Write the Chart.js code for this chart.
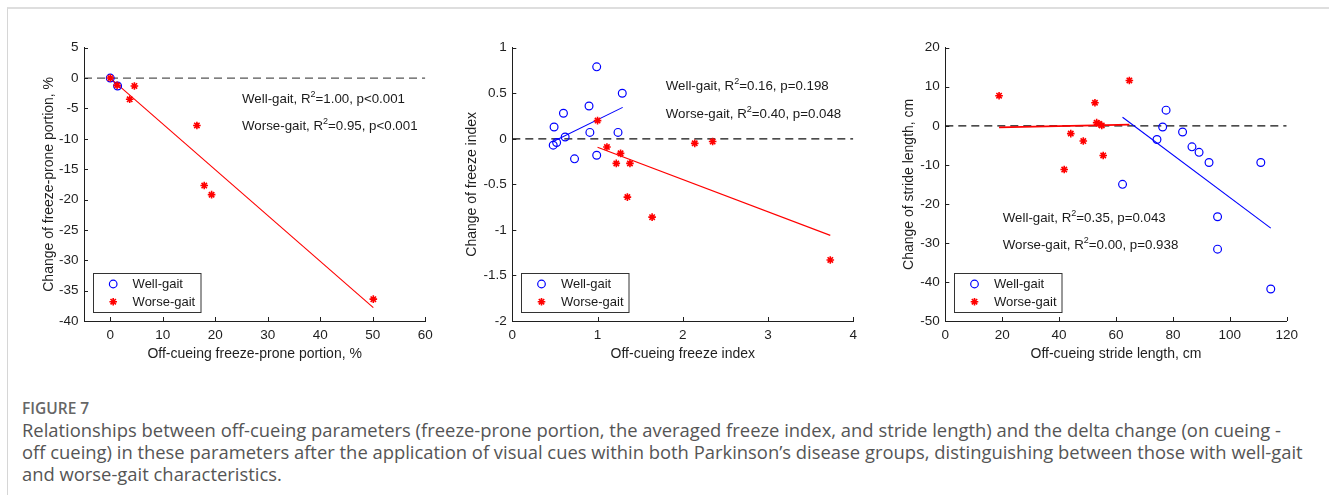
<!DOCTYPE html>
<html><head><meta charset="utf-8">
<script src="https://cdn.jsdelivr.net/npm/chart.js@4.4.0/dist/chart.umd.min.js"></script>
<style>
html,body{margin:0;padding:0;background:#fff;}
body{width:1329px;height:495px;position:relative;overflow:hidden;font-family:"Liberation Sans",Arial,sans-serif;}
#frame{position:absolute;left:7px;top:7px;right:0;bottom:0;border-top:2px solid #dedede;border-left:1px solid #d6d6d6;}
canvas{position:absolute;top:0;}
.cap{position:absolute;left:22px;font-family:"Open Sans","Noto Sans",sans-serif;color:#555;white-space:nowrap;line-height:22px;}
.fig{font-size:15.5px;font-weight:600;color:#666;}
.txt{font-size:18.4px;}
</style></head><body>
<div id="frame"></div>
<canvas id="c1" width="440" height="380" style="left:0px"></canvas>
<canvas id="c2" width="442" height="380" style="left:428px"></canvas>
<canvas id="c3" width="468" height="380" style="left:861px"></canvas>
<div class="cap fig" style="top:397px">FIGURE 7</div>
<div class="cap txt" style="top:419px">Relationships between off-cueing parameters (freeze-prone portion, the averaged freeze index, and stride length) and the delta change (on cueing -</div>
<div class="cap txt" style="top:441px">off cueing) in these parameters after the application of visual cues within both Parkinson’s disease groups, distinguishing between those with well-gait</div>
<div class="cap txt" style="top:463px">and worse-gait characteristics.</div>
<script>
// ---- Panel 1: freeze-prone portion ----
const fpWellX = [0, 1.4];
const fpWellY = [0, -1.3];
const fpWorseX = [0, 1.3, 4.6, 3.7, 16.5, 17.9, 19.3, 50.1];
const fpWorseY = [0, -1.2, -1.3, -3.5, -7.8, -17.7, -19.2, -36.4];
const fpWellFitX = [0, 1.4];
const fpWellFitY = [0, -1.3];
const fpWorseFitX = [0, 50.1];
const fpWorseFitY = [0, -37.8];
const fpXTicks = [0, 10, 20, 30, 40, 50, 60];
const fpYTicks = [5, 0, -5, -10, -15, -20, -25, -30, -35, -40];
const fpStats = ['Well-gait, R', '=1.00, p<0.001', 'Worse-gait, R', '=0.95, p<0.001'];

// ---- Panel 2: freeze index ----
const fiWellX = [0.48, 0.52, 0.62, 0.49, 0.60, 0.90, 0.91, 0.99, 0.99, 0.73, 1.24, 1.29];
const fiWellY = [-0.07, -0.04, 0.02, 0.13, 0.28, 0.36, 0.07, 0.79, -0.18, -0.22, 0.07, 0.50];
const fiWorseX = [1.00, 1.11, 1.27, 1.22, 1.38, 1.35, 1.64, 2.14, 2.35, 3.73];
const fiWorseY = [0.20, -0.09, -0.16, -0.27, -0.27, -0.64, -0.86, -0.05, -0.03, -1.33];
const fiWellFitX = [0.48, 1.295];
const fiWellFitY = [-0.03, 0.345];
const fiWorseFitX = [1.0, 3.73];
const fiWorseFitY = [-0.093, -1.06];
const fiXTicks = [0, 1, 2, 3, 4];
const fiYTicks = [1, 0.5, 0, -0.5, -1, -1.5, -2];
const fiStats = ['Well-gait, R', '=0.16, p=0.198', 'Worse-gait, R', '=0.40, p=0.048'];

// ---- Panel 3: stride length ----
const slWellX = [62.3, 77.6, 76.4, 74.4, 83.4, 86.7, 89.2, 92.7, 110.9, 95.7, 95.7, 114.4];
const slWellY = [-15.0, 4.0, -0.3, -3.5, -1.6, -5.4, -6.8, -9.4, -9.4, -23.3, -31.6, -41.8];
const slWorseX = [18.9, 41.8, 44.1, 48.5, 52.6, 53.2, 54.0, 55.0, 55.5, 64.7];
const slWorseY = [7.7, -11.2, -2.0, -3.9, 5.9, 0.8, 0.5, 0.1, -7.6, 11.6];
const slWellFitX = [62.3, 114.4];
const slWellFitY = [2.2, -26.2];
const slWorseFitX = [18.9, 64.7];
const slWorseFitY = [-0.4, 0.3];
const slXTicks = [0, 20, 40, 60, 80, 100, 120];
const slYTicks = [20, 10, 0, -10, -20, -30, -40, -50];
const slStats = ['Well-gait, R', '=0.35, p=0.043', 'Worse-gait, R', '=0.00, p=0.938'];

const legendLabels = ['Well-gait', 'Worse-gait'];

const FONT = '"Liberation Sans", Arial, sans-serif';
const INK = '#1f1f1f';

function pts(xs, ys) { return xs.map((v, i) => ({x: v, y: ys[i]})); }

function drawStar(ctx, x, y, r) {
  ctx.beginPath();
  ctx.moveTo(x - r, y); ctx.lineTo(x + r, y);
  ctx.moveTo(x, y - r); ctx.lineTo(x, y + r);
  const d = r * Math.SQRT1_2;
  ctx.moveTo(x - d, y - d); ctx.lineTo(x + d, y + d);
  ctx.moveTo(x - d, y + d); ctx.lineTo(x + d, y - d);
  ctx.stroke();
}

const overlay = {
  id: 'overlay',
  afterDraw(chart) {
    const o = chart.options.plugins.overlay;
    const ctx = chart.ctx, a = chart.chartArea, sx = chart.scales.x, sy = chart.scales.y;
    ctx.save();
    // inward tick marks
    ctx.strokeStyle = INK; ctx.lineWidth = 1;
    ctx.beginPath();
    sx.ticks.forEach(t => { const p = Math.round(sx.getPixelForValue(t.value)) + 0.5; ctx.moveTo(p, a.bottom); ctx.lineTo(p, a.bottom - 4); });
    sy.ticks.forEach(t => { const p = Math.round(sy.getPixelForValue(t.value)) + 0.5; ctx.moveTo(a.left, p); ctx.lineTo(a.left + 4, p); });
    ctx.stroke();
    // statistics text
    ctx.fillStyle = '#1a1a1a';
    ctx.textBaseline = 'middle'; ctx.textAlign = 'left';
    o.notes.forEach((n, i) => {
      let px = sx.getPixelForValue(o.noteX), py = sy.getPixelForValue(o.noteY[i]);
      ctx.font = '13.3px ' + FONT;
      ctx.fillText(n[0], px, py); px += ctx.measureText(n[0]).width;
      ctx.font = '9px ' + FONT;
      ctx.fillText('2', px, py - 5); px += ctx.measureText('2').width;
      ctx.font = '13.3px ' + FONT;
      ctx.fillText(n[1], px, py);
    });
    // legend box
    const L = a.left + 8.6, H = 39, W = 107.5, T = a.bottom - 9.3 - H;
    ctx.fillStyle = '#fff';
    ctx.fillRect(L, T, W, H);
    ctx.strokeStyle = '#333'; ctx.lineWidth = 1;
    ctx.strokeRect(Math.round(L) + 0.5, Math.round(T) + 0.5, W, H);
    ctx.strokeStyle = '#0000ff'; ctx.lineWidth = 1.2;
    ctx.beginPath(); ctx.arc(L + 20.6, T + 11.3, 3.8, 0, Math.PI * 2); ctx.stroke();
    ctx.strokeStyle = '#ff0000'; ctx.lineWidth = 1.6;
    drawStar(ctx, L + 20.6, T + 29, 3.8);
    ctx.fillStyle = '#1a1a1a'; ctx.font = '13px ' + FONT;
    ctx.fillText(legendLabels[0], L + 40, T + 11.3);
    ctx.fillText(legendLabels[1], L + 40, T + 29.5);
    ctx.restore();
  }
};

function makeChart(id, cfg) {
  const ds = [
    {label: legendLabels[1], data: pts(cfg.worseX, cfg.worseY), pointStyle: 'star', pointRadius: 3.8, borderColor: '#ff0000', backgroundColor: '#ff0000', pointBorderWidth: 1.6, showLine: false},
    {label: legendLabels[0], data: pts(cfg.wellX, cfg.wellY), pointStyle: 'circle', pointRadius: 3.9, borderColor: '#0000ff', backgroundColor: 'rgba(0,0,0,0)', pointBorderWidth: 1.2, showLine: false},
    {type: 'line', data: pts(cfg.worseFitX, cfg.worseFitY), borderColor: '#ff0000', borderWidth: cfg.worseFitW, pointRadius: 0, fill: false},
    {type: 'line', data: pts(cfg.wellFitX, cfg.wellFitY), borderColor: '#0000ff', borderWidth: 1.1, pointRadius: 0, fill: false},
    {type: 'line', data: pts([cfg.xMin, cfg.xMax], [0, 0]), borderColor: cfg.zeroColor, borderWidth: 1.2, borderDash: [8, 5], pointRadius: 0, fill: false}
  ];
  return new Chart(document.getElementById(id), {
    type: 'scatter',
    data: {datasets: ds},
    plugins: [overlay],
    options: {
      responsive: false, animation: false, events: [],
      layout: {padding: {left: 0, top: 47.7, right: cfg.padRight, bottom: 0}},
      plugins: {
        legend: {display: false}, tooltip: {enabled: false},
        overlay: {notes: [[cfg.stats[0], cfg.stats[1]], [cfg.stats[2], cfg.stats[3]]], noteX: cfg.noteX, noteY: cfg.noteY}
      },
      scales: {
        x: {
          type: 'linear', position: 'bottom', min: cfg.xMin, max: cfg.xMax,
          afterBuildTicks: s => { s.ticks = cfg.xTicks.map(v => ({value: v})); },
          afterFit: s => { s.height = 59; },
          grid: {display: false, drawTicks: false},
          border: {display: true, color: INK, width: 1},
          ticks: {color: INK, padding: 6, font: {family: FONT, size: 13.5}, maxRotation: 0, autoSkip: false, callback: v => String(v)},
          title: {display: true, text: cfg.xTitle, color: INK, font: {family: FONT, size: 14}, padding: {top: 0, bottom: 17.6}}
        },
        y: {
          type: 'linear', position: 'left', min: cfg.yMin, max: cfg.yMax,
          afterBuildTicks: s => { s.ticks = cfg.yTicks.map(v => ({value: v})); },
          afterFit: s => { s.width = cfg.yWidth; },
          grid: {display: false, drawTicks: false},
          border: {display: true, color: INK, width: 1},
          ticks: {color: INK, padding: 5.5, font: {family: FONT, size: 13.5}, autoSkip: false, callback: v => String(v)},
          title: {display: true, text: cfg.yTitle, color: INK, font: {family: FONT, size: 14}, padding: {top: cfg.yTitleOff - 8.4, bottom: 0}}
        }
      }
    }
  });
}

makeChart('c1', {
  wellX: fpWellX, wellY: fpWellY, worseX: fpWorseX, worseY: fpWorseY,
  wellFitX: fpWellFitX, wellFitY: fpWellFitY, worseFitX: fpWorseFitX, worseFitY: fpWorseFitY, worseFitW: 1.1,
  xMin: -5, xMax: 60, yMin: -40, yMax: 5, xTicks: fpXTicks, yTicks: fpYTicks,
  xTitle: 'Off-cueing freeze-prone portion, %', yTitle: 'Change of freeze-prone portion, %',
  stats: fpStats, noteX: 25.1, noteY: [-3.46, -7.9], zeroColor: '#555',
  padRight: 14.7, yWidth: 84, yTitleOff: 49
});
makeChart('c2', {
  wellX: fiWellX, wellY: fiWellY, worseX: fiWorseX, worseY: fiWorseY,
  wellFitX: fiWellFitX, wellFitY: fiWellFitY, worseFitX: fiWorseFitX, worseFitY: fiWorseFitY, worseFitW: 1.1,
  xMin: 0, xMax: 4, yMin: -2, yMax: 1, xTicks: fiXTicks, yTicks: fiYTicks,
  xTitle: 'Off-cueing freeze index', yTitle: 'Change of freeze index',
  stats: fiStats, noteX: 1.80, noteY: [0.572, 0.272], zeroColor: '#111',
  padRight: 16.7, yWidth: 84.3, yTitleOff: 44
});
makeChart('c3', {
  wellX: slWellX, wellY: slWellY, worseX: slWorseX, worseY: slWorseY,
  wellFitX: slWellFitX, wellFitY: slWellFitY, worseFitX: slWorseFitX, worseFitY: slWorseFitY, worseFitW: 1.8,
  xMin: 0, xMax: 120, yMin: -50, yMax: 20, xTicks: slXTicks, yTicks: slYTicks,
  xTitle: 'Off-cueing stride length, cm', yTitle: 'Change of stride length, cm',
  stats: slStats, noteX: 20.2, noteY: [-23.7, -30.7], zeroColor: '#111',
  padRight: 42.3, yWidth: 84.3, yTitleOff: 48.4
});
</script>
</body></html>
